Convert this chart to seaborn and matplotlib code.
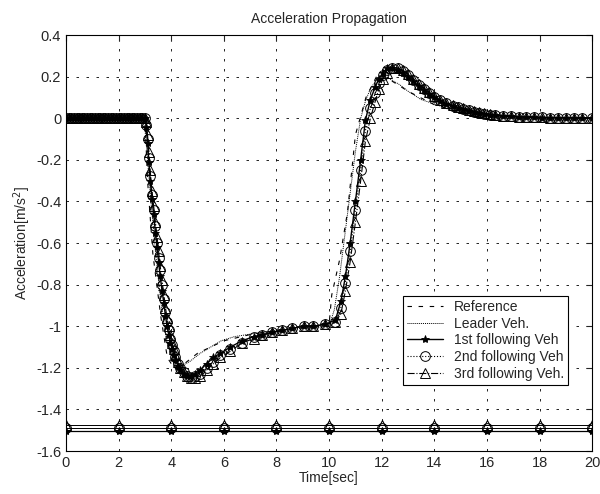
import matplotlib
matplotlib.use("Agg")
import matplotlib.pyplot as plt
import seaborn as sns
import pandas as pd

# tempos de amostragem (passo variavel do integrador)
t_idle = [0.0, 0.1, 0.2, 0.3, 0.4, 0.5, 0.6, 0.7, 0.8, 0.9, 1.0, 1.1, 1.2, 1.3, 1.4,
          1.5, 1.6, 1.7, 1.8, 1.9, 2.0, 2.1, 2.2, 2.3, 2.4, 2.5, 2.6, 2.7, 2.8, 2.9]
a_idle = [0.0, 0.0, 0.0, 0.0, 0.0, 0.0, 0.0, 0.0, 0.0, 0.0, 0.0, 0.0, 0.0, 0.0, 0.0,
          0.0, 0.0, 0.0, 0.0, 0.0, 0.0, 0.0, 0.0, 0.0, 0.0, 0.0, 0.0, 0.0, 0.0, 0.0]

t_active = [3.0, 3.05, 3.1, 3.15, 3.2, 3.27, 3.33, 3.4, 3.46, 3.52, 3.58, 3.65, 3.72, 3.78,
            3.84, 3.9, 3.97, 4.03, 4.1, 4.16, 4.25, 4.35, 4.47, 4.6, 4.75, 4.9, 5.1, 5.35,
            5.6, 5.87, 6.25, 6.69, 7.13, 7.45, 7.83, 8.21, 8.6, 9.03, 9.4, 9.86, 10.24,
            10.45, 10.62, 10.8, 11.0, 11.2, 11.38, 11.57, 11.75, 11.89, 12.05, 12.2, 12.4,
            12.6, 12.8, 13.0, 13.2, 13.4, 13.6, 13.8, 14.0, 14.2, 14.45, 14.7, 14.9, 15.1,
            15.3, 15.5, 15.7, 15.9, 16.1, 16.3, 16.6, 16.9, 17.2, 17.5, 17.8, 18.1, 18.4,
            18.7, 19.0, 19.3, 19.6, 20.0]

a_1st = [0.0, -0.04, -0.12, -0.21, -0.30, -0.39, -0.46, -0.55, -0.62, -0.69, -0.76, -0.83,
         -0.89, -0.95, -1.00, -1.04, -1.08, -1.11, -1.14, -1.16, -1.19, -1.21, -1.23, -1.24,
         -1.24, -1.23, -1.21, -1.18, -1.15, -1.13, -1.10, -1.07, -1.05, -1.04, -1.03, -1.02,
         -1.01, -1.00, -1.00, -0.99, -0.97, -0.88, -0.76, -0.60, -0.40, -0.20, -0.01, 0.09,
         0.15, 0.19, 0.22, 0.24, 0.24, 0.23, 0.22, 0.20, 0.18, 0.155, 0.135, 0.115, 0.10,
         0.085, 0.07, 0.058, 0.05, 0.043, 0.036, 0.030, 0.025, 0.021, 0.017, 0.014, 0.011,
         0.009, 0.007, 0.005, 0.004, 0.003, 0.003, 0.002, 0.002, 0.001, 0.001, 0.001]
a_2nd = [0.0, -0.03, -0.10, -0.19, -0.28, -0.37, -0.44, -0.52, -0.60, -0.67, -0.73, -0.80,
         -0.87, -0.93, -0.98, -1.02, -1.06, -1.09, -1.12, -1.15, -1.18, -1.20, -1.22, -1.24,
         -1.25, -1.24, -1.23, -1.20, -1.17, -1.14, -1.11, -1.08, -1.05, -1.04, -1.03, -1.02,
         -1.01, -1.00, -1.00, -0.99, -0.98, -0.91, -0.79, -0.64, -0.44, -0.25, -0.06, 0.05,
         0.12, 0.17, 0.21, 0.23, 0.24, 0.24, 0.225, 0.21, 0.185, 0.16, 0.14, 0.12, 0.10,
         0.088, 0.072, 0.06, 0.052, 0.045, 0.038, 0.031, 0.026, 0.022, 0.018, 0.015, 0.012,
         0.009, 0.007, 0.006, 0.005, 0.004, 0.003, 0.002, 0.002, 0.002, 0.001, 0.001]
a_3rd = [0.0, -0.02, -0.08, -0.16, -0.25, -0.35, -0.42, -0.50, -0.57, -0.64, -0.71, -0.78,
         -0.85, -0.91, -0.96, -1.00, -1.04, -1.08, -1.11, -1.14, -1.17, -1.20, -1.22, -1.24,
         -1.25, -1.25, -1.24, -1.21, -1.18, -1.15, -1.12, -1.08, -1.06, -1.04, -1.03, -1.02,
         -1.01, -1.00, -1.00, -0.99, -0.98, -0.94, -0.83, -0.69, -0.50, -0.30, -0.11, 0.00,
         0.08, 0.14, 0.19, 0.22, 0.24, 0.24, 0.23, 0.215, 0.19, 0.165, 0.145, 0.125, 0.105,
         0.09, 0.075, 0.062, 0.054, 0.047, 0.040, 0.033, 0.028, 0.023, 0.019, 0.016, 0.013,
         0.010, 0.008, 0.006, 0.005, 0.004, 0.003, 0.003, 0.002, 0.002, 0.001, 0.001]

t_leader = [0.0, 2.9, 3.0, 3.1, 3.2, 3.4, 3.6, 3.8, 4.1, 4.4, 4.7, 5.1, 5.5, 5.9, 6.4, 7.4,
            8.0, 9.0, 10.0, 10.2, 10.4, 10.6, 10.8, 11.0, 11.2, 11.4, 11.6, 11.8, 12.0,
            12.3, 12.7, 13.0, 13.5, 14.2, 14.7, 15.25, 16.0, 17.0, 18.0, 20.0]
a_leader = [0.0, 0.0, -0.05, -0.20, -0.36, -0.64, -0.88, -1.05, -1.17, -1.19, -1.17, -1.13,
            -1.10, -1.07, -1.05, -1.03, -1.02, -1.01, -1.00, -0.92, -0.76, -0.56, -0.36,
            -0.16, 0.0, 0.09, 0.15, 0.18, 0.20, 0.19, 0.16, 0.13, 0.09, 0.06, 0.035, 0.015,
            0.008, 0.004, 0.002, 0.0]

t_ref = [0.0, 3.0, 3.1, 3.3, 3.6, 3.85, 4.1, 4.5, 5.0, 6.0, 7.0, 8.0, 10.0, 10.1, 10.4,
         10.7, 11.0, 11.4, 11.8, 12.0, 12.5, 13.0, 14.0, 15.0, 16.0, 20.0]
a_ref = [0.0, 0.0, -0.30, -0.65, -0.95, -1.15, -1.20, -1.18, -1.13, -1.07, -1.04, -1.02,
         -0.99, -0.85, -0.68, -0.45, -0.08, 0.10, 0.20, 0.21, 0.17, 0.13, 0.065, 0.03,
         0.012, 0.0]

# linhas espurias no rodape
t_base = [0, 2, 4, 6, 8, 10, 12, 14, 16, 18, 20]
a_base_1st = [-1.505] * 11
a_base_2nd = [-1.49] * 11
a_base_3rd = [-1.475] * 11

df_f = pd.DataFrame({
    "t": t_idle + t_active,
    "1st": a_idle + a_1st,
    "2nd": a_idle + a_2nd,
    "3rd": a_idle + a_3rd,
})

sns.set_style("white")
plt.rcParams["font.family"] = ["Liberation Sans", "DejaVu Sans"]
plt.rcParams["font.size"] = 10

fig = plt.figure(figsize=(6, 4.94), dpi=100)
ax = fig.add_axes([0.11, 0.087, 0.877, 0.842])

sns.lineplot(x=t_ref, y=a_ref, ax=ax, color="k", lw=0.8, linestyle=(0, (4, 6)),
             label="Reference", sort=False)
sns.lineplot(x=t_leader, y=a_leader, ax=ax, color="k", lw=0.7, linestyle=(0, (1, 1)),
             label="Leader Veh.", sort=False)
sns.lineplot(data=df_f, x="t", y="1st", ax=ax, color="k", lw=1.0, marker="*",
             markersize=6, mfc="k", mec="k", mew=0.6, label="1st following Veh", sort=False)
sns.lineplot(data=df_f, x="t", y="2nd", ax=ax, color="k", lw=0.8, linestyle=":",
             marker="o", markersize=7, mfc="none", mec="k", mew=0.7,
             label="2nd following Veh", sort=False)
sns.lineplot(data=df_f, x="t", y="3rd", ax=ax, color="k", lw=0.8, linestyle="-.",
             marker="^", markersize=7, mfc="none", mec="k", mew=0.7,
             label="3rd following Veh.", sort=False)

sns.lineplot(x=t_base, y=a_base_1st, ax=ax, color="k", lw=0.9, marker="*", markersize=6,
             mfc="k", mec="k", legend=False)
sns.lineplot(x=t_base, y=a_base_2nd, ax=ax, color="k", lw=0.7, marker="o", markersize=7,
             mfc="none", mec="k", legend=False)
sns.lineplot(x=t_base, y=a_base_3rd, ax=ax, color="k", lw=0.7, marker="^", markersize=7,
             mfc="none", mec="k", legend=False)

ax.set_xlim(0, 20)
ax.set_ylim(-1.6, 0.4)
ax.set_xticks(range(0, 21, 2))
ax.set_yticks([-1.6, -1.4, -1.2, -1.0, -0.8, -0.6, -0.4, -0.2, 0, 0.2, 0.4])
ax.set_yticklabels(["-1.6", "-1.4", "-1.2", "-1", "-0.8", "-0.6", "-0.4", "-0.2", "0",
                    "0.2", "0.4"])
ax.grid(True, color="k", linestyle=(0, (3, 9)), lw=0.6)
ax.tick_params(direction="in", top=True, right=True, length=4, labelsize=10.5)
for s in ax.spines.values():
    s.set_color("k")
    s.set_linewidth(0.8)

ax.set_title("Acceleration Propagation", fontsize=10, pad=9)
ax.set_xlabel("Time[sec]", fontsize=10, labelpad=1)
ax.set_ylabel("Acceleration[m/s$^2$]", fontsize=10, labelpad=2)

leg = ax.legend(loc="lower right", bbox_to_anchor=(0.968, 0.142), fontsize=10,
                frameon=True, fancybox=False, framealpha=1, edgecolor="k",
                handlelength=2.6, borderpad=0.3, labelspacing=0.2)
leg.get_frame().set_linewidth(0.8)

fig.savefig("out.png", dpi=100)
